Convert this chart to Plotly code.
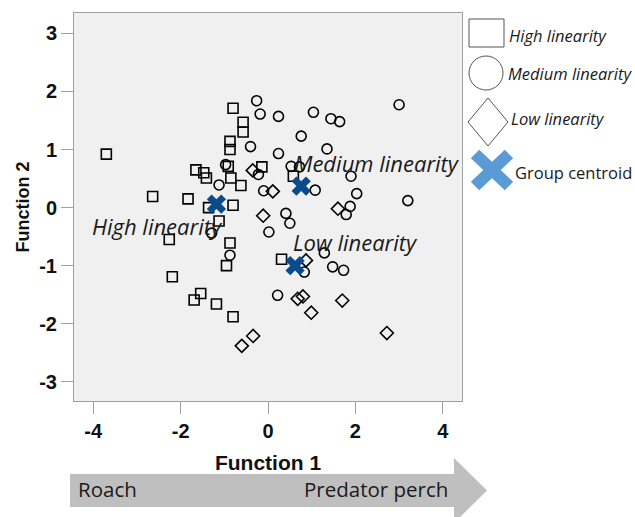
import plotly.graph_objects as go

# ---------------- data ----------------
high_x = [-3.70, -0.80, -0.57, -0.57, -0.87, -0.87, -1.65, -1.47, -1.41, -0.91, -0.85, -0.62, -0.14, 0.58,
          -2.64, -1.83, -0.80, -1.36, -1.12, -2.26, -0.87, -0.95, -2.19, -1.54, -1.69, -1.18, -0.80, 0.31]
high_y = [0.92, 1.71, 1.47, 1.30, 1.14, 1.00, 0.65, 0.60, 0.51, 0.71, 0.51, 0.38, 0.70, 0.54,
          0.19, 0.15, 0.04, 0.00, -0.23, -0.55, -0.61, -1.00, -1.19, -1.48, -1.59, -1.66, -1.88, -0.89]

med_x = [-0.26, -0.18, 0.24, 1.04, 1.44, 1.64, 3.00, 0.76, -0.40, 0.24, 1.35, -0.97, -0.22, 0.53, 0.72,
         -1.12, -0.10, 1.08, 1.90, 2.03, 3.20, 1.88, 1.79, 0.41, 0.50, 0.02, -1.29, -0.87, 1.29, 0.83,
         1.48, 1.73, 0.22]
med_y = [1.84, 1.61, 1.57, 1.64, 1.53, 1.48, 1.77, 1.23, 1.05, 0.93, 1.01, 0.74, 0.57, 0.71, 0.70,
         0.39, 0.29, 0.30, 0.54, 0.24, 0.12, 0.02, -0.12, -0.10, -0.27, -0.42, -0.44, -0.82, -0.78, -1.11,
         -1.02, -1.08, -1.51]

low_x = [-0.35, 0.11, 1.60, -0.11, 0.87, 0.68, 0.80, 0.99, 1.70, -0.34, -0.60, 2.72]
low_y = [0.64, 0.28, -0.02, -0.14, -0.91, -1.57, -1.53, -1.81, -1.60, -2.21, -2.38, -2.16]

centroid_names = ["High linearity", "Medium linearity", "Low linearity"]
centroid_x = [-1.18, 0.76, 0.62]
centroid_y = [0.06, 0.37, -1.00]
# label anchor positions (left edge) in data units
label_x = [-4.01, 0.62, 0.60]
label_y = [-0.31, 0.77, -0.60]

tick_vals_x = [-4, -2, 0, 2, 4]
tick_text_x = ["-4", "-2", "0", "2", "4"]
tick_vals_y = [-3, -2, -1, 0, 1, 2, 3]
tick_text_y = ["-3", "-2", "-1", "0", "1", "2", "3"]
legend_labels = ["High linearity", "Medium linearity", "Low linearity", "Group centroid"]
arrow_labels = ["Roach", "Predator perch"]

# ---------------- layout geometry ----------------
W, H = 635, 517
L, R, T, B = 74, 173, 13, 116
PW, PH = W - L - R, H - T - B


def px(x):
    return (x - L) / PW


def py(y):
    return (H - B - y) / PH


fig = go.Figure()

mk = dict(color="black", size=10, line=dict(width=1.6, color="black"))
fig.add_trace(go.Scatter(x=high_x, y=high_y, mode="markers",
                         marker=dict(symbol="square-open", **mk), showlegend=False))
fig.add_trace(go.Scatter(x=med_x, y=med_y, mode="markers",
                         marker=dict(symbol="circle-open", **mk), showlegend=False))
fig.add_trace(go.Scatter(x=low_x, y=low_y, mode="markers",
                         marker=dict(symbol="diamond-open", **mk), showlegend=False))
fig.add_trace(go.Scatter(x=centroid_x, y=centroid_y, mode="markers",
                         marker=dict(symbol="x", color="#0b4a8b", size=17, line=dict(width=0)),
                         showlegend=False))

annotations = []
for name, lx, ly in zip(centroid_names, label_x, label_y):
    annotations.append(dict(x=lx, y=ly, xref="x", yref="y", text=name, showarrow=False,
                            xanchor="left", yanchor="middle", xshift=-3,
                            font=dict(family="Open Sans", size=22, color="#1a1a1a", style="italic")))

shapes = []
# ---- manual legend ----
lg_font = dict(family="Open Sans", size=16.5, color="#1a1a1a")
shapes.append(dict(type="rect", xref="paper", yref="paper", x0=px(469), x1=px(504), y0=py(47), y1=py(19),
                   line=dict(color="#555555", width=1), fillcolor="white"))
shapes.append(dict(type="circle", xref="paper", yref="paper", x0=px(469), x1=px(503), y0=py(90), y1=py(56),
                   line=dict(color="#555555", width=1), fillcolor="white"))
dcx, dcy, dw, dh = 488, 122, 20, 24
shapes.append(dict(type="path", xref="paper", yref="paper",
                   path="M {},{} L {},{} L {},{} L {},{} Z".format(
                       px(dcx), py(dcy - dh), px(dcx + dw), py(dcy), px(dcx), py(dcy + dh), px(dcx - dw), py(dcy)),
                   line=dict(color="#555555", width=1), fillcolor="white"))
xcx, xcy, ax, ay, hw = 492, 170, 17, 16, 4.2
for s in (1, -1):
    p1 = (xcx - ax, xcy - s * ay)
    p2 = (xcx + ax, xcy + s * ay)
    pts = [(p1[0] + hw, p1[1] - s * hw), (p2[0] + hw, p2[1] - s * hw),
           (p2[0] - hw, p2[1] + s * hw), (p1[0] - hw, p1[1] + s * hw)]
    path = "M " + " L ".join("{},{}".format(px(a), py(b)) for a, b in pts) + " Z"
    shapes.append(dict(type="path", xref="paper", yref="paper", path=path,
                       line=dict(width=0), fillcolor="#5b9bd5"))

leg_pos = [(507, 35, "italic"), (506, 73, "italic"), (509, 118, "italic"), (513, 172, "normal")]
for lab, (lx, ly, st) in zip(legend_labels, leg_pos):
    annotations.append(dict(x=px(lx), y=py(ly), xref="paper", yref="paper", text=lab, showarrow=False,
                            xanchor="left", yanchor="middle",
                            font=dict(lg_font, style=st)))

# ---- bottom arrow ----
ac = 490.5
arrow_pts = [(70, 474), (454, 474), (454, 458), (487, ac), (454, 523), (454, 507), (70, 507)]
shapes.append(dict(type="path", xref="paper", yref="paper",
                   path="M " + " L ".join("{},{}".format(px(a), py(b)) for a, b in arrow_pts) + " Z",
                   line=dict(width=0), fillcolor="#bfbfbf", layer="below"))
annotations.append(dict(x=px(76), y=py(489), xref="paper", yref="paper", text=arrow_labels[0],
                        showarrow=False, xanchor="left", yanchor="middle",
                        font=dict(family="Open Sans", size=20.5, color="#1a1a1a")))
annotations.append(dict(x=px(450), y=py(489), xref="paper", yref="paper", text=arrow_labels[1],
                        showarrow=False, xanchor="right", yanchor="middle",
                        font=dict(family="Open Sans", size=20.5, color="#1a1a1a")))

axis_common = dict(showgrid=False, zeroline=False, showline=True, mirror=True,
                   linecolor="#a0a0a0", linewidth=1, ticks="outside", ticklen=12,
                   tickcolor="#a0a0a0", tickwidth=1,
                   tickfont=dict(family="Liberation Sans", size=20, color="#111111", weight="bold"))

fig.update_layout(
    width=W, height=H,
    margin=dict(l=L, r=R, t=T, b=B),
    paper_bgcolor="white", plot_bgcolor="#f0f0f0",
    showlegend=False,
    xaxis=dict(range=[-4.44, 4.44], tickvals=tick_vals_x,
               ticktext=["<b>{}</b>".format(t) for t in tick_text_x], **axis_common,
               title=dict(text="<b>Function 1</b>", standoff=14,
                          font=dict(family="Liberation Sans", size=21, color="#111111"))),
    yaxis=dict(range=[-3.33, 3.35], tickvals=tick_vals_y,
               ticktext=["<b>{}</b>".format(t) for t in tick_text_y], **axis_common,
               title=dict(text="<b>Function 2</b>", standoff=4,
                          font=dict(family="Liberation Sans", size=18, color="#111111"))),
    annotations=annotations,
    shapes=shapes,
)

fig.write_html("out.html")
